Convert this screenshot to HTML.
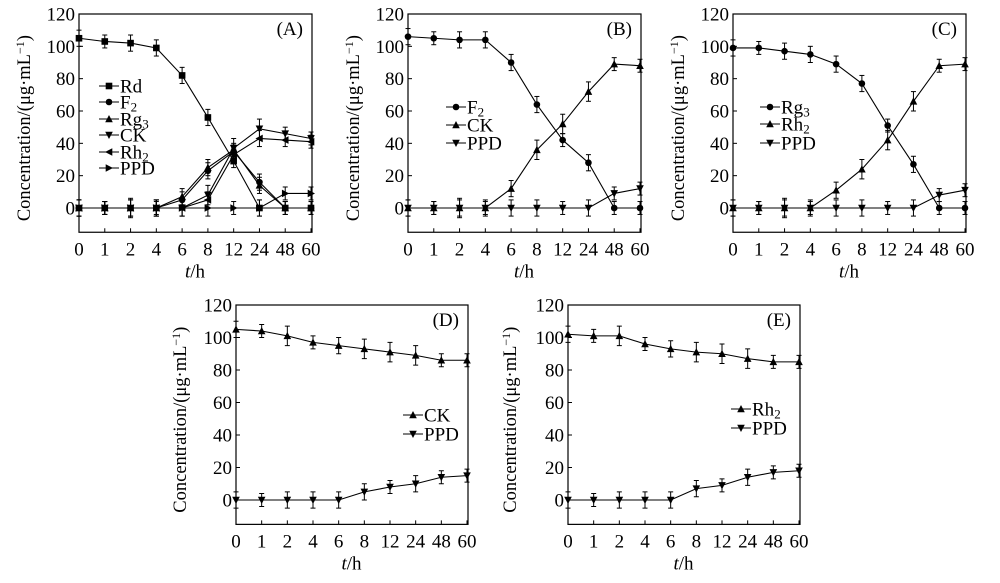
<!DOCTYPE html>
<html><head><meta charset="utf-8">
<style>
html,body{margin:0;padding:0;background:#fff;}
svg{display:block;font-family:"Liberation Serif",serif;}
</style></head>
<body>
<svg id="fig" width="1000" height="583" viewBox="0 0 1000 583" xmlns="http://www.w3.org/2000/svg"></svg>
<script>
const categories = ["0","1","2","4","6","8","12","24","48","60"];
const yTicks = [0,20,40,60,80,100,120];
// Panel A
const aRd  = [105,103,102,99,82,56,29,0,0,0];
const aF2  = [0,0,0,0,5,23,35,16,0,0];
const aRg3 = [0,0,0,0,7,25,36,14,0,0];
const aCK  = [0,0,0,0,0,8,37,49,46,43];
const aRh2 = [0,0,0,0,0,5,33,43,42,41];
const aPPD = [0,0,0,0,0,0,0,0,9,9];
// Panel B
const bF2  = [106,105,104,104,90,64,42,28,0,0];
const bCK  = [0,0,0,0,12,36,52,72,89,88];
const bPPD = [0,0,0,0,0,0,0,0,9,12];
// Panel C
const cRg3 = [99,99,97,95,89,77,51,27,0,0];
const cRh2 = [0,0,0,0,11,24,42,66,88,89];
const cPPD = [0,0,0,0,0,0,0,0,8,11];
// Panel D
const dCK  = [105,104,101,97,95,93,91,89,86,86];
const dPPD = [0,0,0,0,0,5,8,10,14,15];
// Panel E
const eRh2 = [102,101,101,96,93,91,90,87,85,85];
const ePPD = [0,0,0,0,0,7,9,14,17,18];
const errSmall = [5,4,5,5,5,5,4,5,4,4];
const errBig = [5,4,6,4,5,6,6,6,4,4];

const NS="http://www.w3.org/2000/svg";
const svg=document.getElementById('fig');
function mk(tag,attrs,parent){const e=document.createElementNS(NS,tag);for(const k in attrs)e.setAttribute(k,attrs[k]);(parent||svg).appendChild(e);return e;}

function marker(g,type,x,y){
  const s=3.3;let e;
  if(type==='square'){e=mk('rect',{x:x-s,y:y-s,width:2*s,height:2*s,fill:'#000'},g);}
  else if(type==='circle'){e=mk('circle',{cx:x,cy:y,r:s,fill:'#000'},g);}
  else{
    let p;
    if(type==='up')p=[[x,y-s-0.7],[x-s-0.5,y+s],[x+s+0.5,y+s]];
    if(type==='down')p=[[x,y+s+0.7],[x-s-0.5,y-s],[x+s+0.5,y-s]];
    if(type==='left')p=[[x-s-0.7,y],[x+s,y-s-0.5],[x+s,y+s+0.5]];
    if(type==='right')p=[[x+s+0.7,y],[x-s,y-s-0.5],[x-s,y+s+0.5]];
    e=mk('polygon',{points:p.map(q=>q.join(',')).join(' '),fill:'#000'},g);
  }
  return e;
}

function panel(cfg){
  const g=mk('g',{});
  
  
  const {x0,x1,yTop,yZero}=cfg;
  const ppu=(yZero-yTop)/120;
  const yBot=yZero+15*ppu;
  const xs=i=>x0+(x1-x0)*i/(categories.length-1);
  const ys=v=>yZero-v*ppu;
  const box=mk('rect',{x:x0,y:yTop,width:x1-x0+1,height:yBot-yTop,fill:'none',stroke:'#000','stroke-width':1.2},g);
  
  
  yTicks.forEach(t=>{
    mk('line',{x1:x0,x2:x0+4,y1:ys(t),y2:ys(t),stroke:'#000'},g);
    const tx=mk('text',{x:x0-4,y:ys(t)+6.5,'text-anchor':'end','font-size':19},g);
    tx.textContent=t;
    
    
  });
  categories.forEach((c,i)=>{
    mk('line',{x1:xs(i),x2:xs(i),y1:yBot,y2:yBot-4,stroke:'#000'},g);
    const tx=mk('text',{x:xs(i),y:yBot+23,'text-anchor':'middle','font-size':19},g);
    tx.textContent=c;
    
    
  });
  const xt=mk('text',{x:(x0+x1)/2,y:yBot+45,'text-anchor':'middle','font-size':19},g);
  xt.innerHTML='<tspan font-style="italic">t</tspan>/h';
  
  
  const yc=(yTop+yBot)/2+5;
  const yt=mk('text',{x:cfg.ytx,y:yc,'text-anchor':'middle','font-size':18.5,transform:`rotate(-90 ${cfg.ytx} ${yc})`},g);
  yt.innerHTML='Concentration/(μg·mL<tspan dy="-6" font-size="12">−1</tspan><tspan dy="6">)</tspan>';
  
  
  const pl=mk('text',{x:x1-8,y:yTop+21,'text-anchor':'end','font-size':19},g);
  pl.textContent='('+cfg.id+')';
  
  
  cfg.series.forEach(s=>{
    const sg=mk('g',{},g);
    
    
    const pts=s.data.map((v,i)=>[xs(i),ys(v)]);
    mk('polyline',{points:pts.map(p=>p.join(',')).join(' '),fill:'none',stroke:'#000','stroke-width':1.1},sg);
    s.data.forEach((v,i)=>{
      const e=s.err[i];
      const x=xs(i);
      mk('line',{x1:x,x2:x,y1:ys(v-e),y2:ys(v+e),stroke:'#000','stroke-width':1},sg);
      mk('line',{x1:x-2.5,x2:x+2.5,y1:ys(v-e),y2:ys(v-e),stroke:'#000','stroke-width':1},sg);
      mk('line',{x1:x-2.5,x2:x+2.5,y1:ys(v+e),y2:ys(v+e),stroke:'#000','stroke-width':1},sg);
      const m=marker(sg,s.m,x,ys(v));
      
      
    });
  });
  const lg=mk('g',{},g);
  
  
  cfg.series.forEach((s,k)=>{
    const ly=cfg.leg.ys[k];
    const eg=mk('g',{},lg);
    
    
    mk('line',{x1:cfg.leg.x,x2:cfg.leg.x+20,y1:ly,y2:ly,stroke:'#000','stroke-width':1.1},eg);
    marker(eg,s.m,cfg.leg.x+10,ly);
    const t=mk('text',{x:cfg.leg.x+21,y:ly+6.5,'font-size':19},eg);
    t.innerHTML=s.label;
  });
}
const sub=(a,b)=>a+'<tspan dy="3" font-size="13">'+b+'</tspan>';
panel({id:'A',x0:79,x1:311,yTop:14,yZero:208,ytx:30,
  leg:{x:99,ys:[86,102,119,135,152,168]},
  series:[
    {key:'rd',label:'Rd',m:'square',data:aRd,err:errSmall},
    {key:'f2',label:sub('F','2'),m:'circle',data:aF2,err:errSmall},
    {key:'rg3',label:sub('Rg','3'),m:'up',data:aRg3,err:errSmall},
    {key:'ck',label:'CK',m:'down',data:aCK,err:errBig},
    {key:'rh2',label:sub('Rh','2'),m:'left',data:aRh2,err:errSmall},
    {key:'ppd',label:'PPD',m:'right',data:aPPD,err:errSmall}]});
panel({id:'B',x0:408,x1:640,yTop:14,yZero:208,ytx:359,
  leg:{x:446,ys:[107,125,143]},
  series:[
    {key:'f2',label:sub('F','2'),m:'circle',data:bF2,err:errSmall},
    {key:'ck',label:'CK',m:'up',data:bCK,err:errBig},
    {key:'ppd',label:'PPD',m:'down',data:bPPD,err:errSmall}]});
panel({id:'C',x0:733,x1:965,yTop:14,yZero:208,ytx:684,
  leg:{x:760,ys:[107,124,143]},
  series:[
    {key:'rg3',label:sub('Rg','3'),m:'circle',data:cRg3,err:errSmall},
    {key:'rh2',label:sub('Rh','2'),m:'up',data:cRh2,err:errBig},
    {key:'ppd',label:'PPD',m:'down',data:cPPD,err:errSmall}]});
panel({id:'D',x0:236,x1:467,yTop:305,yZero:500,ytx:186,
  leg:{x:403,ys:[415,434]},
  series:[
    {key:'ck',label:'CK',m:'up',data:dCK,err:errBig},
    {key:'ppd',label:'PPD',m:'down',data:dPPD,err:errSmall}]});
panel({id:'E',x0:568,x1:799,yTop:305,yZero:500,ytx:516,
  leg:{x:731,ys:[409,428]},
  series:[
    {key:'rh2',label:sub('Rh','2'),m:'up',data:eRh2,err:errBig},
    {key:'ppd',label:'PPD',m:'down',data:ePPD,err:errSmall}]});
</script>
</body></html>
